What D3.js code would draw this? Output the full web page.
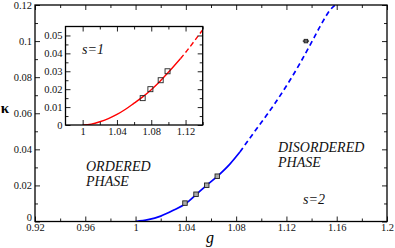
<!DOCTYPE html>
<html>
<head>
<meta charset="utf-8">
<script src="https://cdn.jsdelivr.net/npm/d3@7"></script>
<style>
  body { margin: 0; background: #fff; }
  svg, svg text { font-family: "Liberation Serif", "Times New Roman", Times, serif; }
</style>
</head>
<body>
<div id="chart"></div>
<script>
// main panel (s=2) curve
const blueSolidG = [1.000, 1.010, 1.020, 1.030, 1.040, 1.048, 1.056, 1.065, 1.075, 1.083]
const blueSolidK = [0, 0.0010, 0.0030, 0.0062, 0.0100, 0.0148, 0.0198, 0.0250, 0.0318, 0.0385]
const blueDashG = [1.083, 1.0937, 1.1043, 1.1109, 1.1229, 1.1308, 1.1388, 1.1467, 1.1547, 1.1588]
const blueDashK = [0.0385, 0.0489, 0.0590, 0.0655, 0.0784, 0.0877, 0.0978, 0.1080, 0.1172, 0.1200]
const mainPtsG = [1.0393, 1.0481, 1.0566, 1.065]
const mainPtsK = [0.0102, 0.0151, 0.0201, 0.0251]
const outlierG = [1.1355]
const outlierK = [0.1000]
const outlierErr = [0.0025]

// inset (s=1) curve
const redSolidG = [1.000, 1.010, 1.020, 1.030, 1.040, 1.050, 1.060, 1.070, 1.080, 1.090, 1.100, 1.114]
const redSolidK = [0, 0.0005, 0.0018, 0.0036, 0.0059, 0.0088, 0.0122, 0.0157, 0.0197, 0.0243, 0.0294, 0.0370]
const redDashG = [1.114, 1.120, 1.130, 1.140]
const redDashK = [0.0370, 0.0405, 0.0467, 0.0532]
const insetPtsG = [1.070, 1.079, 1.091, 1.099]
const insetPtsK = [0.015, 0.020, 0.025, 0.030]

// ticks
const gTicks = [0.92, 0.96, 1, 1.04, 1.08, 1.12, 1.16, 1.2]
const gMinor = [0.94, 0.98, 1.02, 1.06, 1.10, 1.14, 1.18]
const kTicks = [0, 0.02, 0.04, 0.06, 0.08, 0.1, 0.12]
const kMinor = [0.01, 0.03, 0.05, 0.07, 0.09, 0.11]
const inGTicks = [1, 1.04, 1.08, 1.12]
const inGMinor = [1.02, 1.06, 1.10, 1.14]
const inKTicks = [0, 0.01, 0.02, 0.03, 0.04, 0.05]
const inKMinor = [0.005, 0.015, 0.025, 0.035, 0.045]

const W = 395, H = 248
const SERIF = '"Liberation Serif", "Times New Roman", Times, serif'
const svg = d3.select('#chart').append('svg').attr('width', W).attr('height', H)
    .attr('font-family', SERIF)
const fmt = d3.format('~g')
const zip = (a, b) => a.map((v, i) => [v, b[i]])

function frame(g, x, y, xt, xm, yt, ym, major, minor, fs, zeroDy) {
    const [x0, x1] = x.range()
    const [y0, y1] = y.range()
    const put = (axis, tr) => {
        const a = g.append('g').attr('transform', tr).call(axis).attr('font-family', SERIF)
        a.select('.domain').remove()
        a.selectAll('line').attr('stroke', '#222')
        a.selectAll('text').attr('font-size', fs).attr('fill', '#111')
        return a
    }
    put(d3.axisBottom(x).tickValues(xt).tickFormat(fmt).tickSizeInner(-major).tickSizeOuter(0).tickPadding(2.5), `translate(0,${y0})`)
    put(d3.axisBottom(x).tickValues(xm).tickFormat('').tickSizeInner(-minor).tickSizeOuter(0), `translate(0,${y0})`)
    put(d3.axisTop(x).tickValues(xt).tickFormat('').tickSizeInner(-major).tickSizeOuter(0), `translate(0,${y1})`)
    put(d3.axisTop(x).tickValues(xm).tickFormat('').tickSizeInner(-minor).tickSizeOuter(0), `translate(0,${y1})`)
    const left = put(d3.axisLeft(y).tickValues(yt).tickFormat(fmt).tickSizeInner(-major).tickSizeOuter(0).tickPadding(3), `translate(${x0},0)`)
    if (zeroDy) left.selectAll('text').filter(d => d === 0).attr('dy', zeroDy)
    put(d3.axisLeft(y).tickValues(ym).tickFormat('').tickSizeInner(-minor).tickSizeOuter(0), `translate(${x0},0)`)
    put(d3.axisRight(y).tickValues(yt).tickFormat('').tickSizeInner(-major).tickSizeOuter(0), `translate(${x1},0)`)
    put(d3.axisRight(y).tickValues(ym).tickFormat('').tickSizeInner(-minor).tickSizeOuter(0), `translate(${x1},0)`)
    g.append('rect').attr('x', x0).attr('y', y1).attr('width', x1 - x0).attr('height', y0 - y1)
        .attr('fill', 'none').attr('stroke', '#000').attr('stroke-width', 1.3)
}

function squares(g, x, y, pts, fill, s) {
    g.selectAll(null).data(pts).join('rect')
        .attr('x', d => x(d[0]) - s / 2).attr('y', d => y(d[1]) - s / 2)
        .attr('width', s).attr('height', s)
        .attr('fill', fill).attr('stroke', '#222').attr('stroke-width', 0.9)
}

// main panel
const x = d3.scaleLinear().domain([0.92, 1.2]).range([35, 387])
const y = d3.scaleLinear().domain([0, 0.12]).range([221.5, 5])
const main = svg.append('g')
const clipM = svg.append('clipPath').attr('id', 'clipM')
clipM.append('rect').attr('x', 35).attr('y', 5).attr('width', 352).attr('height', 216.5)

const line = d3.line().x(d => x(d[0])).y(d => y(d[1])).curve(d3.curveMonotoneX)
const curves = main.append('g').attr('clip-path', 'url(#clipM)')
curves.append('path').datum(zip(blueSolidG, blueSolidK)).attr('d', line)
    .attr('fill', 'none').attr('stroke', '#0000ff').attr('stroke-width', 1.7)
curves.append('path').datum(zip(blueDashG, blueDashK)).attr('d', line)
    .attr('fill', 'none').attr('stroke', '#0000ff').attr('stroke-width', 1.7).attr('stroke-dasharray', '5,3.5')
squares(main, x, y, zip(mainPtsG, mainPtsK), '#aaa', 4.5)

const outl = zip(outlierG, outlierK)
main.selectAll(null).data(outl).join('line')
    .attr('x1', (d, i) => x(d[0] - outlierErr[i])).attr('x2', (d, i) => x(d[0] + outlierErr[i]))
    .attr('y1', d => y(d[1])).attr('y2', d => y(d[1]))
    .attr('stroke', '#444').attr('stroke-width', 1.6)
squares(main, x, y, outl, '#666', 3.5)

frame(main, x, y, gTicks, gMinor, kTicks, kMinor, 5, 3, '10.5px', '-0.12em')

main.append('text').attr('x', 5).attr('y', 113).attr('text-anchor', 'middle')
    .attr('font-size', '15px').attr('font-weight', 'bold').text('κ')
main.append('text').attr('x', 210).attr('y', 243).attr('text-anchor', 'middle')
    .attr('font-size', '16px').attr('font-style', 'italic').text('g')

const lab = (tx, ty, s) => main.append('text').attr('x', tx).attr('y', ty)
    .attr('font-size', '14px').attr('font-style', 'italic').attr('fill', '#111').text(s)
lab(86, 171, 'ORDERED')
lab(86, 185.5, 'PHASE')
lab(278, 152, 'DISORDERED')
lab(278, 166.5, 'PHASE')
lab(303, 203.5, 's=2')

// inset
const xi = d3.scaleLinear().domain([0.98, 1.14]).range([65.5, 202.7])
const yi = d3.scaleLinear().domain([0, 0.055]).range([125, 26.5])
const inset = svg.append('g')
inset.append('rect').attr('x', 65.5).attr('y', 26.5).attr('width', 137.2).attr('height', 98.5).attr('fill', '#fff')
const clipI = svg.append('clipPath').attr('id', 'clipI')
clipI.append('rect').attr('x', 65.5).attr('y', 26.5).attr('width', 137.2).attr('height', 98.5)
const lineI = d3.line().x(d => xi(d[0])).y(d => yi(d[1])).curve(d3.curveMonotoneX)
const cI = inset.append('g').attr('clip-path', 'url(#clipI)')
cI.append('path').datum(zip(redSolidG, redSolidK)).attr('d', lineI)
    .attr('fill', 'none').attr('stroke', '#ff0000').attr('stroke-width', 1.4)
cI.append('path').datum(zip(redDashG, redDashK)).attr('d', lineI)
    .attr('fill', 'none').attr('stroke', '#ff0000').attr('stroke-width', 1.4).attr('stroke-dasharray', '5,3')
squares(inset, xi, yi, zip(insetPtsG, insetPtsK), 'none', 5)

frame(inset, xi, yi, inGTicks, inGMinor, inKTicks, inKMinor, 5, 3, '10.5px', null)
inset.append('text').attr('x', 82).attr('y', 54).attr('font-size', '14px')
    .attr('font-style', 'italic').attr('fill', '#111').text('s=1')
</script>
</body>
</html>
